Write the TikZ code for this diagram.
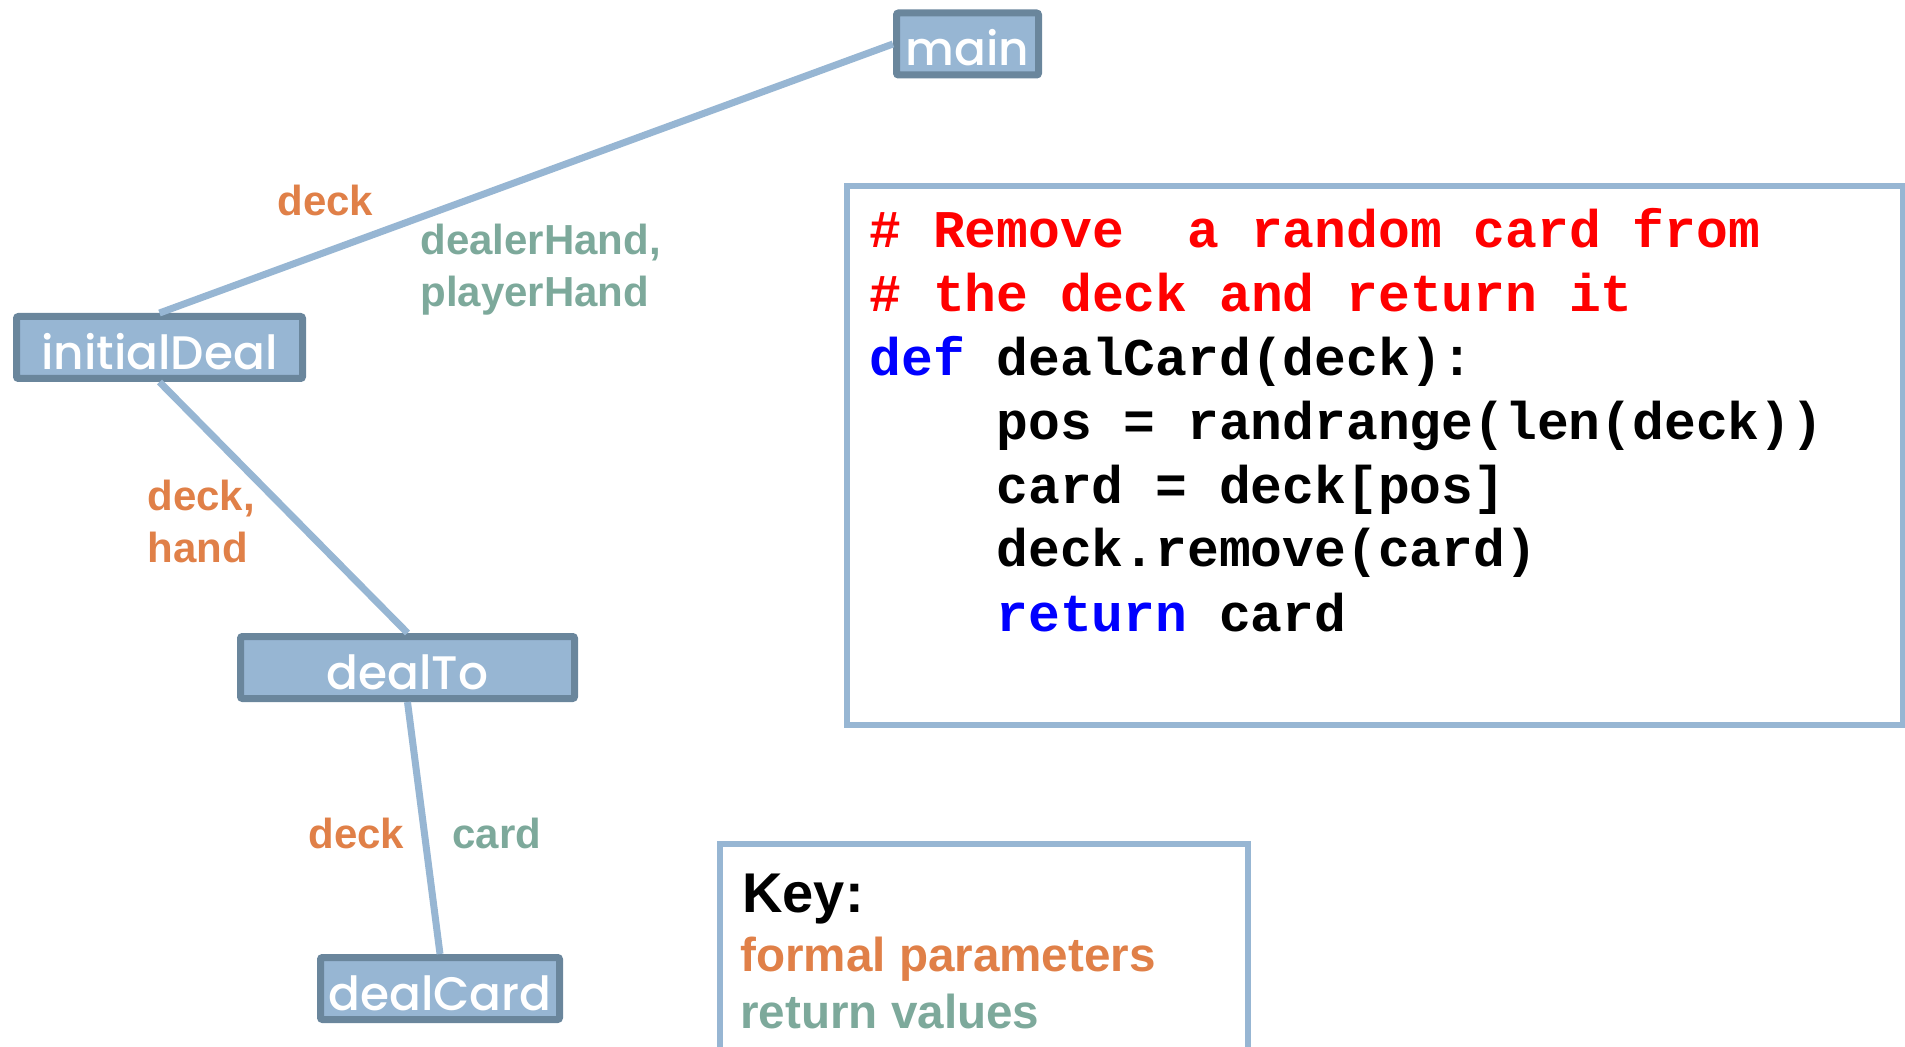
\documentclass[tikz,border=0pt]{standalone}
\usepackage{fontspec}
\setmainfont{Liberation Sans}
\newfontfamily\boxfont{Poppins Medium}
\newfontfamily\codefont{Liberation Mono}
\definecolor{boxfill}{HTML}{97B6D3}
\definecolor{boxline}{HTML}{6A869C}
\definecolor{paramcol}{HTML}{E08048}
\definecolor{retcol}{HTML}{7DA99B}
\definecolor{cmtred}{HTML}{FF0000}
\definecolor{kwblue}{HTML}{0000FF}

\begin{document}
\begin{tikzpicture}[x=0.5pt, y=-0.5pt,
    func/.style={draw=boxline, fill=boxfill, line width=3.5pt, rounded corners=1pt, text=white, inner sep=0pt,
      minimum height=31pt, text height=22pt, text depth=0pt,
      font=\boxfont\fontsize{23.5}{23.5}\selectfont},
    call/.style={draw=boxfill, line width=3.5pt},
    param/.style={anchor=base west, inner sep=0pt, text=paramcol, align=left,
      font=\bfseries\fontsize{21}{26}\selectfont},
    retval/.style={param, text=retcol},
    codeline/.style={anchor=base west, inner sep=0pt, font=\codefont\bfseries\fontsize{26.5}{26.5}\selectfont},
    keyline/.style={anchor=base west, inner sep=0pt, font=\bfseries\fontsize{23.8}{23.8}\selectfont}]
        \useasboundingbox (0,0) rectangle (1905,1047);
        % call tree
        \node [func, minimum width=71pt] (main) at (967.5,44) {main};
        \node [func, minimum width=143pt] (initialDeal) at (159.5,347.5) {initialDeal};
        \node [func, minimum width=167pt] (dealTo) at (407.5,667.5) {dealTo};
        \node [func, minimum width=119.5pt] (dealCard) at (440,988.5) {dealCard};
        \draw [call] (main.west) -- (initialDeal.north);
        \draw [call] (initialDeal.south) -- (dealTo.north);
        \draw [call] (dealTo.south) -- (dealCard.north);
        % parameters and return values
        \node [param] (deckMain) at (277,216) {deck};
        \node [retval] (handsMain) at (420,255) {dealerHand,};
        \node [retval] (handsMainB) at (420,307) {playerHand};
        \node [param] (deckDeal) at (147,510) {deck,};
        \node [param] (handDeal) at (147,562) {hand};
        \node [param] (deckTo) at (308,848) {deck};
        \node [retval] (cardTo) at (452,848) {card};
        % code of dealCard
        \draw [draw=boxfill, line width=3pt] (847,186) rectangle (1903,725);
        \node [codeline, text=cmtred] (cmtOne) at (869,248) {\# Remove~~a random card from};
        \node [codeline, text=cmtred] (cmtTwo) at (869,312) {\# the deck and return it};
        \node [codeline] (defLine) at (869,376) {\textcolor{kwblue}{def} dealCard(deck):};
        \node [codeline] (posLine) at (996,440) {pos = randrange(len(deck))};
        \node [codeline] (cardLine) at (996,504) {card = deck[pos]};
        \node [codeline] (removeLine) at (996,567) {deck.remove(card)};
        \node [codeline] (returnLine) at (996,631) {\textcolor{kwblue}{return} card};
        % key
        \draw [draw=boxfill, line width=3pt] (720,1047) -- (720,844) -- (1248,844) -- (1248,1047);
        \node [keyline, font=\bfseries\fontsize{28}{28}\selectfont] (keyTitle) at (742,912) {Key:};
        \node [keyline, text=paramcol] (keyParam) at (740,971) {formal parameters};
        \node [keyline, text=retcol] (keyRet) at (740,1028) {return values};
      \end{tikzpicture}
\end{document}
